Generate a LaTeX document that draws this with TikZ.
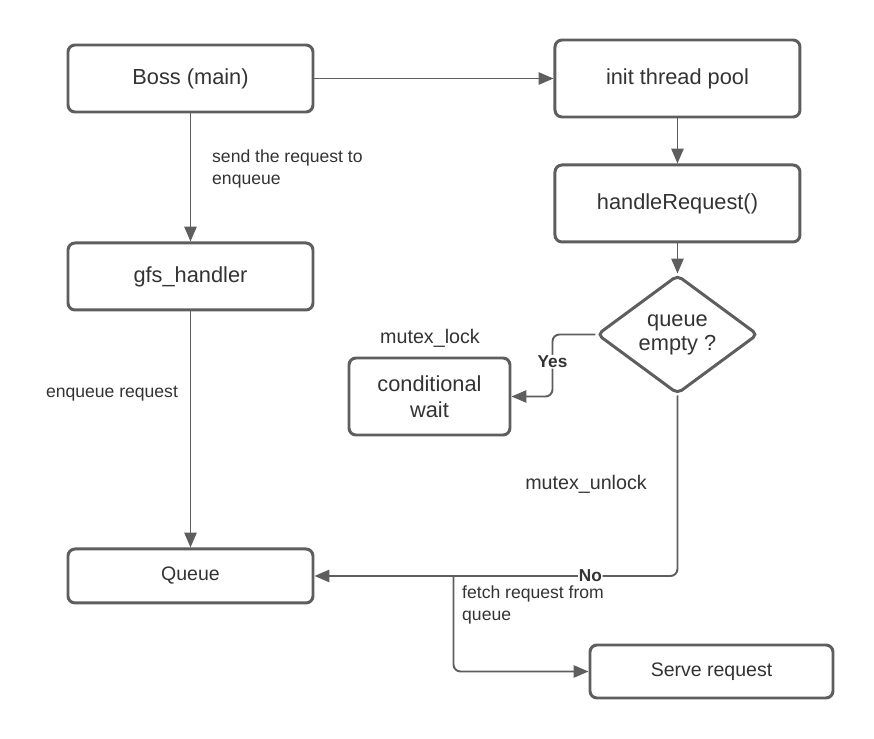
\documentclass[tikz,border=0pt]{standalone}
\usepackage{fontspec}
\setmainfont{Liberation Sans}
\usepackage{xcolor}
\usetikzlibrary{arrows.meta, positioning, shapes.geometric, calc}

\definecolor{linegray}{HTML}{5E5E5E}
\definecolor{textgray}{HTML}{333333}

\begin{document}
\begin{tikzpicture}[
        node distance=0.9cm and 4.78cm,
        >={Triangle[length=8.5pt, width=7pt]},
        every node/.style={text=textgray},
        proc/.style={draw=linegray, line width=1.7pt, rounded corners=4pt, fill=white, minimum width=4.9cm, minimum height=1.34cm, align=center, font=\fontsize{12.4}{14.7}\selectfont},
        small/.style={draw=linegray, line width=1.7pt, rounded corners=4pt, fill=white, minimum width=4.9cm, minimum height=1.08cm, align=center, font=\fontsize{11.1}{13}\selectfont},
        decide/.style={diamond, draw=linegray, line width=1.7pt, rounded corners=3pt, fill=white, minimum width=3.22cm, minimum height=2.38cm, aspect=1.36, inner sep=0pt, align=center, font=\fontsize{12.4}{13.6}\selectfont},
        note/.style={align=left, font=\fontsize{10}{12.5}\selectfont},
        tag/.style={font=\fontsize{11.2}{13}\selectfont},
        yesno/.style={fill=white, inner sep=0.5pt, font=\bfseries\fontsize{9.8}{11}\selectfont},
        flow/.style={->, draw=linegray, line width=1.1pt, rounded corners=4pt},
    ]
    \useasboundingbox (0,0) rectangle (17.48,-14.78);

    % ── Boss side (left column) ──
    \node[proc] (boss) at (3.81,-1.57) {Boss (main)};
    \node[proc, below=2.56cm of boss] (gfs) {gfs\_handler};
    \node[small, below=4.72cm of gfs] (queue) {Queue};

    % ── Worker side (right column) ──
    \node[proc, minimum height=1.54cm, right=of boss] (pool) {init thread pool};
    \node[proc, minimum height=1.54cm, below=of pool] (handle) {handleRequest()};
    \node[decide, below=0.6cm of handle] (empty) {queue\\empty ?};
    \node[proc, minimum width=3.22cm, minimum height=1.54cm] (wait) at (8.59,-7.93) {conditional\\wait};
    \node[small, minimum width=4.86cm, minimum height=1.06cm] (serve) at (14.23,-13.43) {Serve request};

    % ── Free labels ──
    \node[note, anchor=west] (sendlbl) at (4.12,-3.38) {send the request to\\enqueue};
    \node[note] (enqlbl) at (2.24,-7.88) {enqueue request};
    \node[tag] (locklbl) at (8.6,-6.76) {mutex\_lock};
    \node[tag] (unlocklbl) at (11.72,-9.68) {mutex\_unlock};
    \node[note, anchor=west] (fetchlbl) at (9.12,-12.1) {fetch request from\\queue};

    % ── Arrows ──
    \draw[flow] (boss) -- (pool);
    \draw[flow] (pool) -- (handle);
    \draw[flow] (handle) -- (empty);
    \draw[flow] (boss) -- (gfs);
    \draw[flow] (gfs) -- (queue);
    \draw[flow] (empty.west) -- ++(-0.86,0) |- (wait.east)
        node[pos=0.22, yesno] {Yes};
    \draw[flow] (empty.south) |- (queue.east)
        node[pos=0.62, yesno] {No};
    \coordinate (fork) at ($(queue.east)+(2.78,0)$);
    \draw[flow] (fork) |- (serve.west);

\end{tikzpicture}
\end{document}
